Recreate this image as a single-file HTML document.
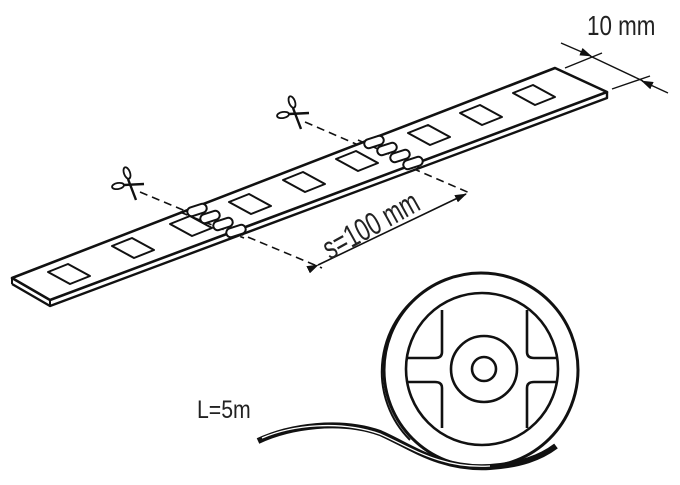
<!DOCTYPE html>
<html><head><meta charset="utf-8"><style>
html,body{margin:0;padding:0;background:#fff;}
svg{display:block;}
text{font-family:"Liberation Sans","DejaVu Sans",sans-serif;fill:#222;}
</style></head><body>
<svg width="680" height="485" viewBox="0 0 680 485" xmlns="http://www.w3.org/2000/svg">
<defs>
<marker id="ah" markerWidth="12" markerHeight="8" refX="11" refY="4" orient="auto" markerUnits="userSpaceOnUse">
<path d="M0,0 L12,4 L0,8 z" fill="#111"/></marker>
<g id="sc" stroke="#111" fill="none" stroke-width="1.8">
<ellipse cx="-12" cy="2" rx="6" ry="3" transform="rotate(-10 -12 2)"/>
<ellipse cx="-3" cy="-11" rx="3" ry="6" transform="rotate(-20 -3 -11)"/>
<path d="M-6,1 L14,0" stroke-width="2.4"/>
<path d="M-2,-5 L6,16" stroke-width="2.4"/>
</g>
</defs>
<g stroke="#111" fill="none" stroke-linejoin="round">
<g stroke-width="1.6" stroke-dasharray="8,5">
<path d="M140,192 L322,268"/>
<path d="M305,122 L472,194"/>
</g>
<path d="M12,284 L50,306 L607,98 L607,92" stroke-width="2.4" fill="#fff"/>
<path d="M12,278 L555,68 L607,92 L50,300 Z" fill="#fff" stroke-width="2.6"/>
<path d="M12,278 L12,284 M50,300 L50,306" stroke-width="2"/>
<g stroke-width="1.6" stroke-dasharray="8,5">
<path d="M180,212 L244,238"/>
<path d="M358,140 L420,168"/>
</g>
<g stroke-width="2" fill="#fff">
<path d="M48,272 l20,-8 l22,12 l-20,8 z"/>
<path d="M112,246 l20,-8 l22,12 l-20,8 z"/>
<path d="M170,224 l20,-8 l22,12 l-20,8 z"/>
<path d="M229,202 l20,-8 l22,12 l-20,8 z"/>
<path d="M283,180 l20,-8 l22,12 l-20,8 z"/>
<path d="M336,159 l20,-8 l22,12 l-20,8 z"/>
<path d="M408,133 l20,-8 l22,12 l-20,8 z"/>
<path d="M460,113 l20,-8 l22,12 l-20,8 z"/>
<path d="M513,93 l20,-8 l22,12 l-20,8 z"/>
</g>
<g stroke-width="2" fill="#fff">
<rect x="-10" y="-4.5" width="20" height="9" rx="4.5" transform="translate(197,210) rotate(-18)"/>
<rect x="-10" y="-4.5" width="20" height="9" rx="4.5" transform="translate(210,217) rotate(-18)"/>
<rect x="-10" y="-4.5" width="20" height="9" rx="4.5" transform="translate(223,224) rotate(-18)"/>
<rect x="-10" y="-4.5" width="20" height="9" rx="4.5" transform="translate(236,231) rotate(-18)"/>
<rect x="-10" y="-4.5" width="20" height="9" rx="4.5" transform="translate(374,142) rotate(-18)"/>
<rect x="-10" y="-4.5" width="20" height="9" rx="4.5" transform="translate(387,149) rotate(-18)"/>
<rect x="-10" y="-4.5" width="20" height="9" rx="4.5" transform="translate(400,156) rotate(-18)"/>
<rect x="-10" y="-4.5" width="20" height="9" rx="4.5" transform="translate(413,163) rotate(-18)"/>
</g>
<path d="M318,265 L466,194" stroke-width="1.6" marker-start="url(#ah)" marker-end="url(#ah)"/>
<path d="M565,68 L602,53" stroke-width="1.4"/>
<path d="M612,89 L650,76" stroke-width="1.4"/>
<path d="M561,43 L591,56" stroke-width="1.4" marker-end="url(#ah)"/>
<path d="M668,93 L642,81" stroke-width="1.4" marker-end="url(#ah)"/>
<path d="M590,56 L643,81" stroke-width="1.4"/>
<circle cx="481" cy="370" r="97" stroke-width="3"/>
<path d="M430,288 A92 95 0 0 0 410,440" stroke-width="2"/>
<circle cx="482" cy="369" r="76" stroke-width="2.6"/>
<circle cx="484" cy="369" r="33" stroke-width="2.6"/>
<circle cx="484" cy="369" r="12" stroke-width="2.6"/>
<g stroke-width="2.6">
<path d="M442,310 L442,352 Q442,358 435,358 L407,358"/>
<path d="M442,428 L442,388 Q442,382 435,382 L407,382"/>
<path d="M527,310 L527,352 Q527,358 534,358 L557,358"/>
<path d="M527,428 L527,388 Q527,382 534,382 L557,382"/>
</g>
<path d="M258,441 C290,426 340,419 380,433 C410,446 440,470 490,467 C520,465 540,458 556,446" stroke-width="6"/>
<path d="M262,438 C292,425 340,420 380,434 C410,447 440,469 490,466" stroke="#fff" stroke-width="1.3"/>
</g>
<use href="#sc" transform="translate(130,184)"/>
<use href="#sc" transform="translate(295,113)"/>
<text x="0" y="0" font-size="32" transform="translate(330,260) rotate(-29) scale(0.7,1)">s=100 mm</text>
<text x="0" y="0" font-size="28" transform="translate(587,35) scale(0.8,1)">10 mm</text>
<text x="0" y="0" font-size="25" transform="translate(197,418) scale(0.85,1)">L=5m</text>
</svg>
</body></html>
